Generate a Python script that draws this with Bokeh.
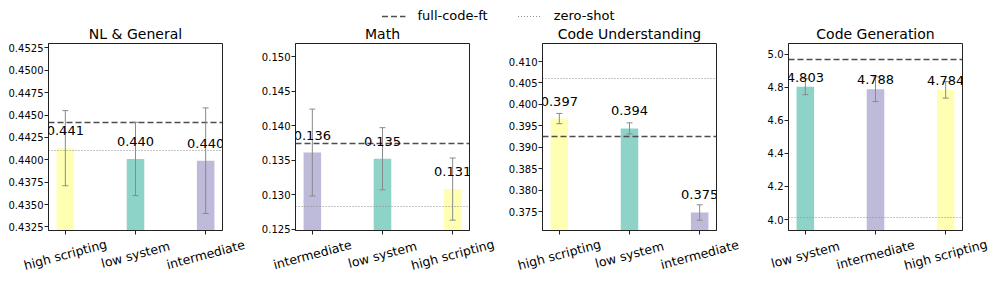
import math
from bokeh.plotting import figure
from bokeh.models import (ColumnDataSource, Range1d, FixedTicker, Whisker, TeeHead,
                          LabelSet, Legend, LegendItem, PrintfTickFormatter)
from bokeh.core.properties import value
from bokeh.layouts import column, row
from bokeh.embed import file_html
from bokeh.resources import INLINE

# ---------------- data ----------------
nl_cats = ["high scripting", "low system", "intermediate"]
nl_means = [0.4413, 0.4401, 0.4399]
nl_errs = [0.0042, 0.0041, 0.0059]
nl_full = 0.4442
nl_zero = 0.4410
nl_ticks = [0.4325, 0.4350, 0.4375, 0.4400, 0.4425, 0.4450, 0.4475, 0.4500, 0.4525]

math_cats = ["intermediate", "low system", "high scripting"]
math_means = [0.1361, 0.1352, 0.1308]
math_errs = [0.0063, 0.0045, 0.0045]
math_full = 0.1374
math_zero = 0.1283
math_ticks = [0.125, 0.130, 0.135, 0.140, 0.145, 0.150]

cu_cats = ["high scripting", "low system", "intermediate"]
cu_means = [0.3967, 0.3944, 0.3748]
cu_errs = [0.0012, 0.0013, 0.0018]
cu_full = 0.3925
cu_zero = 0.4061
cu_ticks = [0.375, 0.380, 0.385, 0.390, 0.395, 0.400, 0.405, 0.410]

cg_cats = ["low system", "intermediate", "high scripting"]
cg_means = [4.803, 4.788, 4.784]
cg_errs = [0.048, 0.075, 0.050]
cg_full = 4.966
cg_zero = 4.012
cg_ticks = [4.0, 4.2, 4.4, 4.6, 4.8, 5.0]

series_names = ["full-code-ft", "zero-shot"]
colors = {"low system": "#8dd3c7", "high scripting": "#ffffb3", "intermediate": "#bebada"}
FONT = "DejaVu Sans"
FULL_STYLE = dict(line_color="#4d4d4d", line_width=1.5, line_dash="6 3")
ZERO_STYLE = dict(line_color="#8c8c8c", line_width=1.2, line_dash="1 2")

XLO, XHI = -0.24, 2.24
FRAME_W = 174
SCALE = FRAME_W / (XHI - XLO)
TOTAL_W = 996


def panel(title, cats, means, errs, full, zero, ylim, ticks, fmt, lab_off, W, bl):
    br = W - bl - FRAME_W
    p = figure(width=W, height=213, output_backend="svg", toolbar_location=None,
               x_range=Range1d(XLO, XHI), y_range=Range1d(*ylim),
               min_border_left=bl, min_border_right=br, min_border_top=20,
               min_border_bottom=6, title=title)
    p.title.align = "center"
    p.title.vertical_align = "top"
    p.title.text_font = FONT
    p.title.text_font_size = "14px"
    p.title.text_font_style = "normal"
    p.title.text_color = "black"
    p.title.standoff = 0
    p.grid.visible = False
    p.outline_line_color = "#222222"
    p.outline_line_width = 1

    xs = list(range(len(cats)))
    src = ColumnDataSource(dict(
        x=xs, top=means,
        upper=[m + e for m, e in zip(means, errs)],
        lower=[m - e for m, e in zip(means, errs)],
        color=[colors[c] for c in cats],
        label=[f"{m:.3f}" for m in means]))
    p.vbar(x="x", top="top", bottom=0, width=0.25, source=src,
           fill_color="color", line_color=None)
    p.hspan(y=[full], **FULL_STYLE)
    p.hspan(y=[zero], **ZERO_STYLE)
    w = Whisker(base="x", upper="upper", lower="lower", source=src, level="annotation",
                line_color="#8a8a8a", line_width=1,
                upper_head=TeeHead(size=6, line_color="#8a8a8a", line_width=1),
                lower_head=TeeHead(size=6, line_color="#8a8a8a", line_width=1))
    p.add_layout(w)
    p.add_layout(LabelSet(x="x", y="top", text="label", source=src, y_offset=lab_off,
                          text_align="center", text_baseline="alphabetic",
                          text_font=value(FONT), text_font_size="13px", text_color="black"))

    for ax in (p.xaxis[0], p.yaxis[0]):
        ax.axis_line_color = "#222222"
        ax.major_tick_line_color = "#222222"
        ax.major_tick_out = 4
        ax.major_tick_in = 0
        ax.minor_tick_line_color = None
        ax.major_label_text_font = FONT
        ax.major_label_text_color = "black"
    p.yaxis[0].ticker = FixedTicker(ticks=ticks)
    p.yaxis[0].formatter = PrintfTickFormatter(format=fmt)
    p.yaxis[0].major_label_text_font_size = "10px"
    p.yaxis[0].major_label_standoff = 1
    p.xaxis[0].ticker = FixedTicker(ticks=xs)
    p.xaxis[0].major_label_text_color = None
    p.xaxis[0].major_label_text_font_size = "0px"
    p.xaxis[0].major_label_standoff = 0
    return p


specs = [
    ("NL & General", nl_cats, nl_means, nl_errs, nl_full, nl_zero,
     (0.4321, 0.4530), nl_ticks, "%.4f", 13, 245, 48),
    ("Math", math_cats, math_means, math_errs, math_full, math_zero,
     (0.1248, 0.1519), math_ticks, "%.3f", 13, 245, 50),
    ("Code Understanding", cu_cats, cu_means, cu_errs, cu_full, cu_zero,
     (0.3706, 0.4142), cu_ticks, "%.3f", 13, 245, 52),
    ("Code Generation", cg_cats, cg_means, cg_errs, cg_full, cg_zero,
     (3.934, 5.064), cg_ticks, "%.1f", 5, 261, 53),
]
panels = [panel(*s) for s in specs]

# strip underneath carrying the rotated category names, one x-scale per panel
strip = figure(width=TOTAL_W, height=44, output_backend="svg", toolbar_location=None,
               x_range=Range1d(0, 1), y_range=Range1d(-1.18, 0.82), min_border=0)
strip.axis.visible = False
strip.grid.visible = False
strip.outline_line_color = None
left = 0
for i, s in enumerate(specs):
    cats, W, bl = s[1], s[10], s[11]
    start = XLO - (left + bl) / SCALE
    name = f"p{i}"
    strip.extra_x_ranges[name] = Range1d(start, start + TOTAL_W / SCALE)
    xs = list(range(len(cats)))
    strip.text(x=xs, y=[0] * len(xs), text=cats, x_range_name=name,
               angle=math.radians(15), text_align="center", text_baseline="middle",
               text_font=value(FONT), text_font_size="12.5px", text_color="black")
    left += W

# legend strip (its spans sit outside the strip's visible range)
lg = figure(width=TOTAL_W, height=23, output_backend="svg", toolbar_location=None,
            x_range=Range1d(0, 1), y_range=Range1d(-1, 0), min_border=0)
lg.axis.visible = False
lg.grid.visible = False
lg.outline_line_color = None
r1 = lg.hspan(y=[cg_full], **FULL_STYLE)
r2 = lg.hspan(y=[cg_zero], **ZERO_STYLE)
leg = Legend(items=[LegendItem(label=series_names[0], renderers=[r1]),
                    LegendItem(label=series_names[1], renderers=[r2])],
             orientation="horizontal", location="bottom_center",
             border_line_color=None, background_fill_alpha=0,
             label_text_font=FONT, label_text_font_size="13px", label_text_color="black",
             glyph_width=24, glyph_height=10, label_standoff=12, spacing=30,
             padding=0, margin=0, label_height=14)
lg.add_layout(leg, "center")

layout = column(lg, row(*panels), strip)
open("out.html", "w").write(file_html(layout, INLINE))
